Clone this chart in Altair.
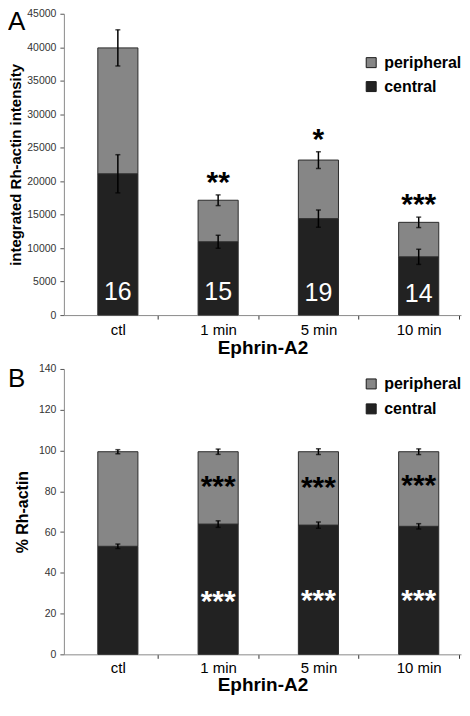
import altair as alt
import pandas as pd

# ---------------- data ----------------
cats = ["ctl", "1 min", "5 min", "10 min"]
segments = ["peripheral", "central"]

# Panel A: integrated Rh-actin intensity
a_total = [39900, 17150, 23150, 13850]
a_central = [21100, 10950, 14400, 8700]
a_total_err = [2700, 800, 1250, 780]
a_central_err = [2850, 970, 1300, 1130]
a_n_labels = ["16", "15", "19", "14"]
a_n_y = [3500, 3500, 3250, 3200]
a_sig = ["", "**", "*", "***"]

# Panel B: % Rh-actin
b_total = [99.4, 99.4, 99.4, 99.4]
b_central = [53.0, 63.9, 63.4, 62.8]
b_total_err = [1.0, 1.3, 1.4, 1.4]
b_central_err = [1.1, 1.6, 1.5, 1.3]
b_sig_periph = ["", "***", "***", "***"]
b_sig_periph_y = [84.5, 84.5, 84.0, 84.8]
b_sig_central = ["", "***", "***", "***"]
b_sig_central_y = [28.2, 28.2, 28.6, 28.6]

FONT = "Liberation Sans"
PERIPH = "#868686"
CENTRAL = "#222222"


def bar_frame(total, central):
    rows = []
    for c, t, ce in zip(cats, total, central):
        rows.append({"cat": c, "seg": "central", "y0": 0, "y1": ce})
        rows.append({"cat": c, "seg": "peripheral", "y0": ce, "y1": t})
    return pd.DataFrame(rows)


def err_frame(total, central, terr, cerr):
    rows = []
    for c, t, ce, te, cee in zip(cats, total, central, terr, cerr):
        rows.append({"cat": c, "lo": t - te, "hi": t + te})
        rows.append({"cat": c, "lo": ce - cee, "hi": ce + cee})
    return pd.DataFrame(rows)


def text_frame(ys, labels):
    rows = [{"cat": c, "ty": y, "txt": t} for c, y, t in zip(cats, ys, labels) if t]
    return pd.DataFrame(rows)


xscale = alt.Scale(domain=cats, paddingInner=0.6, paddingOuter=0.28, align=0.604)


def x_axis(label_pad, title_pad):
    return alt.Axis(
        labelAngle=0,
        labelFontSize=15,
        labelColor="#000000",
        labelPadding=label_pad,
        bandPosition=1,
        tickOffset=20,
        labelOffset=-20,
        tickSize=4,
        tickColor="#333333",
        domainColor="#8a8a8a",
        titleFontSize=19,
        titleFontWeight="bold",
        titleColor="#000000",
        titlePadding=title_pad,
        grid=False,
    )


def panel(total, central, terr, cerr, ymax, ystep, ytitle, ytitle_size,
          title_pad, height, letter, letter_y, legend_y, row_pad, x_label_pad,
          x_title_pad, texts):
    yvals = list(range(0, ymax + 1, ystep))
    yscale = alt.Scale(domain=[0, ymax], nice=False, zero=True)
    yaxis = alt.Axis(
        values=yvals,
        format="d",
        labelOverlap=False,
        labelFontSize=10.5,
        labelColor="#333333",
        labelPadding=4,
        tickSize=4,
        tickColor="#555555",
        domainColor="#8a8a8a",
        titleFontSize=ytitle_size,
        titleFontWeight="bold",
        titleColor="#000000",
        titlePadding=title_pad,
        grid=False,
    )
    xa = x_axis(x_label_pad, x_title_pad)

    def X():
        return alt.X("cat:N", sort=cats, scale=xscale, axis=xa, title="Ephrin-A2")

    def Y(field):
        return alt.Y(field, scale=yscale, axis=yaxis, title=ytitle)

    bdf = bar_frame(total, central)
    bars = alt.Chart(bdf).mark_bar(stroke="#2b2b2b", strokeWidth=1).encode(
        x=X(),
        y=Y("y0:Q"),
        y2="y1:Q",
        color=alt.Color(
            "seg:N",
            scale=alt.Scale(domain=segments, range=[PERIPH, CENTRAL]),
            legend=alt.Legend(
                title=None,
                orient="none",
                legendX=300,
                legendY=legend_y,
                symbolType="square",
                symbolSize=100,
                symbolStrokeColor="#1a1a1a",
                symbolStrokeWidth=1,
                labelFontSize=16,
                labelFontWeight="bold",
                labelColor="#000000",
                labelOffset=5,
                rowPadding=row_pad,
                padding=0,
            ),
        ),
    )
    edf = err_frame(total, central, terr, cerr)
    rules = alt.Chart(edf).mark_rule(color="#000000", strokeWidth=1.5).encode(
        x=X(), y=Y("lo:Q"), y2="hi:Q",
    )
    cap_hi = alt.Chart(edf).mark_tick(color="#000000", thickness=1.5, size=5).encode(
        x=X(), y=Y("hi:Q"),
    )
    cap_lo = alt.Chart(edf).mark_tick(color="#000000", thickness=1.5, size=5).encode(
        x=X(), y=Y("lo:Q"),
    )
    layers = [bars, rules, cap_hi, cap_lo]
    for tdf, style in texts:
        layers.append(
            alt.Chart(tdf).mark_text(font=FONT, **style).encode(
                x=X(), y=Y("ty:Q"), text="txt:N",
            )
        )
    letter_df = pd.DataFrame({"txt": [letter]})
    layers.append(
        alt.Chart(letter_df).mark_text(
            font=FONT, fontSize=26, align="left", baseline="middle", color="#000000"
        ).encode(x=alt.value(-56), y=alt.value(letter_y), text="txt:N")
    )
    return alt.layer(*layers).properties(width=398, height=height)


# text layers panel A
a_n_df = text_frame(a_n_y, a_n_labels)
a_sig_df = text_frame([t + e for t, e in zip(a_total, a_total_err)], a_sig)
chart_a = panel(
    a_total, a_central, a_total_err, a_central_err, 45000, 5000,
    "integrated Rh-actin intensity", 15, 3, 302, "A", 8, 41, 8, 3, 2,
    [
        (a_n_df, dict(color="#ffffff", fontSize=25, baseline="middle")),
        (a_sig_df, dict(color="#000000", fontSize=30, fontWeight="bold",
                        baseline="alphabetic", dy=-3)),
    ],
)

b_p_df = text_frame(b_sig_periph_y, b_sig_periph)
b_c_df = text_frame(b_sig_central_y, b_sig_central)
chart_b = panel(
    b_total, b_central, b_total_err, b_central_err, 140, 20,
    "% Rh-actin", 16, 8, 286, "B", 10, 7, 9, 2, 0,
    [
        (b_p_df, dict(color="#000000", fontSize=30, fontWeight="bold",
                      baseline="alphabetic", dy=14)),
        (b_c_df, dict(color="#ffffff", fontSize=30, fontWeight="bold",
                      baseline="alphabetic", dy=14)),
    ],
)

chart = (
    alt.vconcat(chart_a, chart_b, spacing=6)
    .resolve_scale(color="independent", y="independent")
    .resolve_legend(color="independent")
    .properties(padding=0)
    .configure(font=FONT)
    .configure_view(strokeWidth=0)
)

chart.save("out.html", embed_options={"renderer": "svg", "actions": False})
